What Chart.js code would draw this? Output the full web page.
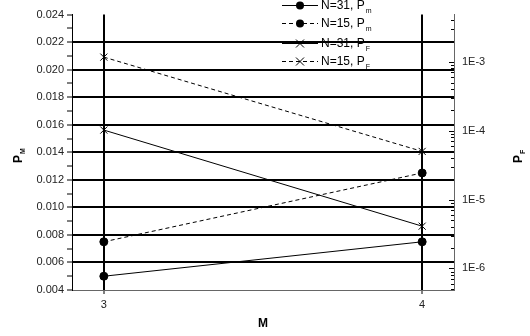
<!DOCTYPE html>
<html>
<head>
<meta charset="utf-8">
<script src="https://cdn.jsdelivr.net/npm/chart.js@4/dist/chart.umd.min.js"></script>
<style>
  html, body { margin: 0; padding: 0; background: #fff; }
  #wrap { width: 530px; height: 336px; }
</style>
</head>
<body>
<div id="wrap"><canvas id="chart" width="530" height="336"></canvas></div>
<script>
// values
const M = [3, 4]
const pmN31 = [0.0050, 0.0075]
const pmN15 = [0.0075, 0.0125]
const pfN31 = [1.02e-4, 4.1e-6]
const pfN15 = [1.17e-3, 5.0e-5]

const pmLabels = ['0.004', '0.006', '0.008', '0.010', '0.012', '0.014', '0.016', '0.018', '0.020', '0.022', '0.024']
const pfLabels = ['1E-6', '1E-5', '1E-4', '1E-3']
const legendText = ['N=31, P', 'N=15, P', 'N=31, P', 'N=15, P']
const legendSub = ['m', 'm', 'F', 'F']

const FONT = '"Liberation Sans", Arial, sans-serif'

function pts(ys) {
    return M.map((x, i) => ({x: x, y: ys[i]}))
}

const series = [
    {data: pts(pmN31), axis: 'y', dash: [], style: 'circle'},
    {data: pts(pmN15), axis: 'y', dash: [4, 3], style: 'circle'},
    {data: pts(pfN31), axis: 'y2', dash: [], style: 'crossRot'},
    {data: pts(pfN15), axis: 'y2', dash: [4, 3], style: 'crossRot'}
]

const datasets = series.map((s, i) => ({
    label: legendText[i] + legendSub[i],
    data: s.data,
    yAxisID: s.axis,
    borderColor: '#000',
    backgroundColor: '#000',
    borderWidth: 1,
    borderDash: s.dash,
    pointStyle: s.style,
    pointRadius: s.style === 'circle' ? 4 : 5,
    pointBorderWidth: 1,
    tension: 0
}))

// right axis tick marks point inward, plus titles and legend
const extras = {
    id: 'extras',
    afterDraw(chart) {
        const ctx = chart.ctx
        const y2 = chart.scales.y2
        const area = chart.chartArea
        ctx.save()
        ctx.strokeStyle = '#000'
        ctx.lineWidth = 1
        y2.ticks.forEach(t => {
            const y = Math.round(y2.getPixelForValue(t.value)) + 0.5
            const len = t.major ? 5 : 3
            ctx.beginPath()
            ctx.moveTo(area.right - len, y)
            ctx.lineTo(area.right, y)
            ctx.stroke()
        })

        // axis titles
        ctx.fillStyle = '#000'
        ctx.textBaseline = 'alphabetic'
        ctx.font = 'bold 12px ' + FONT
        ctx.textAlign = 'center'
        ctx.fillText('M', 263, 327)

        const rotTitle = (cx, cy, main, sub) => {
            ctx.save()
            ctx.translate(cx, cy)
            ctx.rotate(-Math.PI / 2)
            ctx.textAlign = 'left'
            ctx.font = 'bold 12px ' + FONT
            const w = ctx.measureText(main).width
            ctx.fillText(main, -6, 4)
            ctx.font = 'bold 7px ' + FONT
            ctx.fillText(sub, -6 + w + 1, 7)
            ctx.restore()
        }
        rotTitle(18, 157, 'P', 'M')
        rotTitle(518, 157, 'P', 'F')

        // legend
        const rows = [5, 23, 43, 61]
        rows.forEach((y, i) => {
            const s = series[i]
            ctx.save()
            ctx.lineWidth = 1
            ctx.setLineDash(s.dash)
            ctx.beginPath()
            ctx.moveTo(282, y + 0.5)
            ctx.lineTo(318, y + 0.5)
            ctx.stroke()
            ctx.setLineDash([])
            if (s.style === 'circle') {
                ctx.beginPath()
                ctx.arc(300, y + 0.5, 4, 0, Math.PI * 2)
                ctx.fill()
            } else {
                ctx.beginPath()
                ctx.moveTo(296, y - 3.5); ctx.lineTo(304, y + 4.5)
                ctx.moveTo(304, y - 3.5); ctx.lineTo(296, y + 4.5)
                ctx.stroke()
            }
            ctx.textAlign = 'left'
            ctx.textBaseline = 'middle'
            ctx.font = '12px ' + FONT
            ctx.fillText(legendText[i], 321, y + 1)
            const w = ctx.measureText(legendText[i]).width
            ctx.font = '7px ' + FONT
            ctx.fillText(legendSub[i], 321 + w + 1, y + 6)
            ctx.restore()
        })
        ctx.restore()
    }
}

new Chart(document.getElementById('chart'), {
    type: 'line',
    data: {datasets: datasets},
    options: {
        responsive: false,
        animation: false,
        layout: {padding: {top: 10, left: 0, right: 0, bottom: 0}},
        plugins: {legend: {display: false}, tooltip: {enabled: false}},
        scales: {
            x: {
                type: 'linear',
                min: 2.9,
                max: 4.1,
                afterBuildTicks: s => { s.ticks = M.map(v => ({value: v})) },
                afterFit: s => { s.height = 46 },
                grid: {color: '#000', lineWidth: 2, tickLength: 4, tickWidth: 1},
                border: {color: '#666', width: 1},
                ticks: {color: '#222', font: {family: FONT, size: 11}, padding: 4, maxRotation: 0}
            },
            y: {
                position: 'left',
                min: 0.004,
                max: 0.024,
                afterBuildTicks: s => {
                    const t = []
                    for (let i = 0; i <= 20; i++) t.push({value: 0.004 + i * 0.001})
                    s.ticks = t
                },
                afterFit: s => { s.width = 72 },
                grid: {
                    color: c => (c.index % 2 === 1 || c.index === 0 || c.index === 20) ? 'rgba(0,0,0,0)' : '#000',
                    lineWidth: 2,
                    tickColor: '#000',
                    tickWidth: 1,
                    tickLength: 5
                },
                border: {color: '#000', width: 1},
                ticks: {
                    autoSkip: false,
                    color: '#222',
                    font: {family: FONT, size: 11},
                    padding: 3,
                    callback: (v, i) => i % 2 === 0 ? pmLabels[i / 2] : ''
                }
            },
            y2: {
                type: 'logarithmic',
                position: 'right',
                min: 4.85e-7,
                max: 4.85e-3,
                afterBuildTicks: s => {
                    const t = []
                    for (let e = -7; e <= -3; e++) {
                        for (let m = 1; m <= 9; m++) {
                            const v = m * Math.pow(10, e)
                            if (v >= s.min && v <= s.max) t.push({value: v, major: m === 1})
                        }
                    }
                    s.ticks = t
                },
                afterFit: s => { s.width = 76 },
                grid: {drawOnChartArea: false, drawTicks: false},
                border: {color: '#666', width: 1},
                ticks: {
                    autoSkip: false,
                    color: '#222',
                    font: {family: FONT, size: 11},
                    padding: 8,
                    callback: v => {
                        const e = Math.round(Math.log10(v))
                        if (Math.abs(Math.log10(v) - e) > 1e-6) return ''
                        return pfLabels[e + 6]
                    }
                }
            }
        }
    },
    plugins: [extras]
})
</script>
</body>
</html>
